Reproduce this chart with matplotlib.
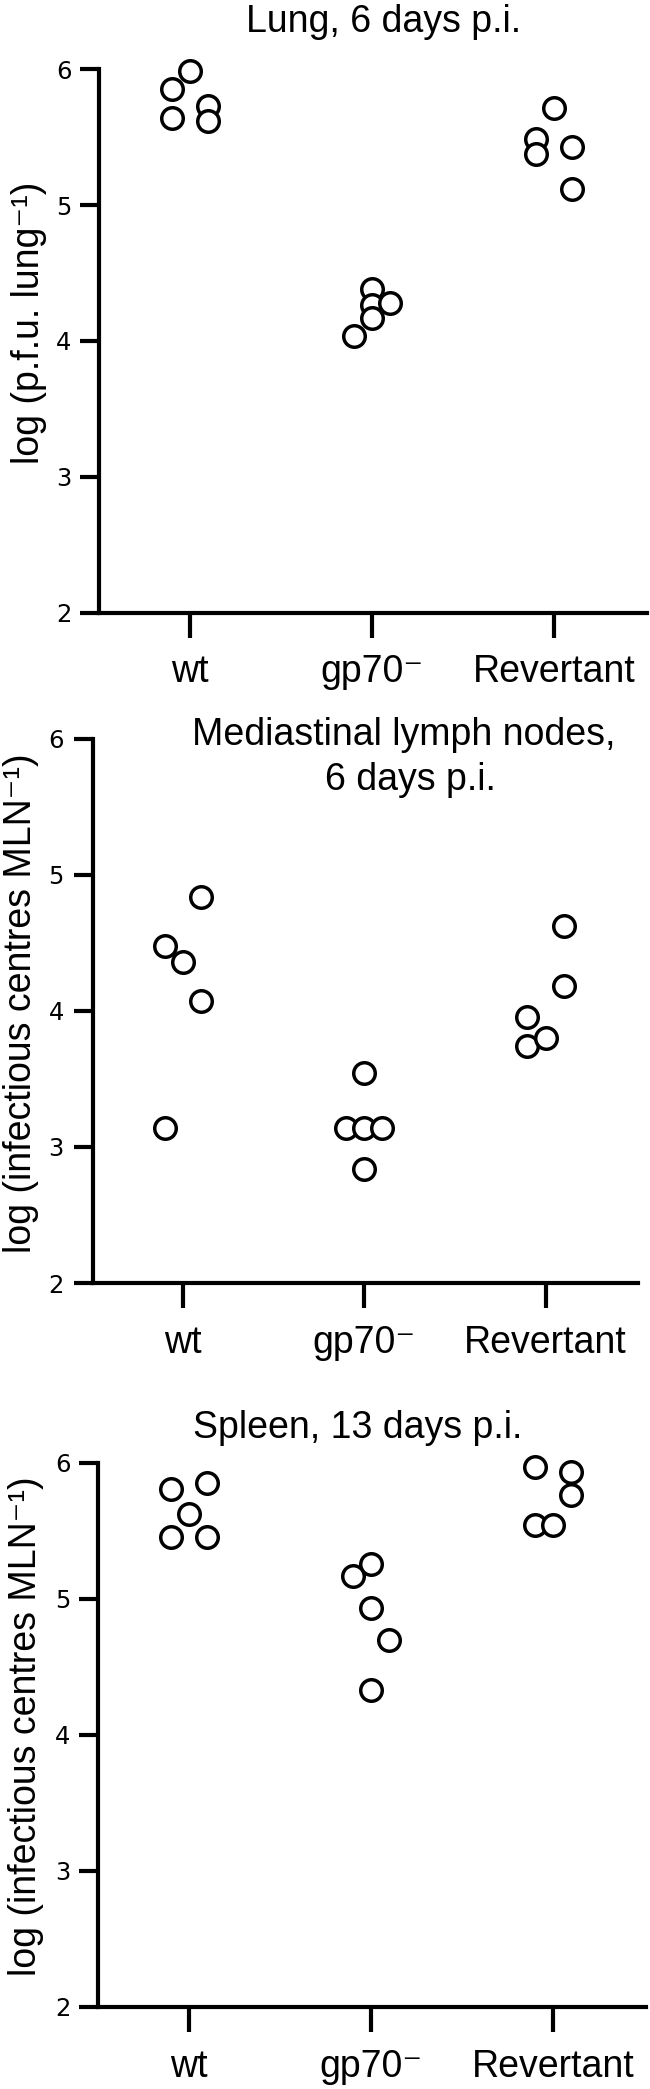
import matplotlib
matplotlib.use('Agg')
import matplotlib.pyplot as plt

# ---------------- data ----------------
categories = ['wt', 'gp70\u207b', 'Revertant']
yticks = [2, 3, 4, 5, 6]

# Lung, 6 days p.i.
lung_wt = [5.99, 5.855, 5.638, 5.73, 5.621]
lung_gp70 = [4.381, 4.263, 4.167, 4.279, 4.04]
lung_rev = [5.713, 5.49, 5.378, 5.43, 5.117]
lung_wt_dx = [0, -0.1, -0.1, 0.1, 0.1]
lung_gp70_dx = [0, 0, 0, 0.1, -0.1]
lung_rev_dx = [0, -0.1, -0.1, 0.1, 0.1]

# Mediastinal lymph nodes, 6 days p.i.
mln_wt = [4.475, 4.357, 4.836, 4.071, 3.14]
mln_gp70 = [3.545, 3.14, 3.14, 3.14, 2.838]
mln_rev = [4.623, 4.186, 3.956, 3.742, 3.798]
mln_wt_dx = [-0.1, 0, 0.1, 0.1, -0.1]
mln_gp70_dx = [0, -0.1, 0, 0.1, 0]
mln_rev_dx = [0.1, 0.1, -0.1, -0.1, 0]

# Spleen, 13 days p.i.
spl_wt = [5.807, 5.85, 5.62, 5.451, 5.451]
spl_gp70 = [5.252, 5.169, 4.929, 4.693, 4.331]
spl_rev = [5.967, 5.927, 5.761, 5.544, 5.544]
spl_wt_dx = [-0.1, 0.1, 0, -0.1, 0.1]
spl_gp70_dx = [0, -0.1, 0, 0.1, 0]
spl_rev_dx = [-0.1, 0.1, 0.1, -0.1, 0]

ylabel_lung = 'log (p.f.u. lung\u207b\u00b9)'
ylabel_ic = 'log (infectious centres MLN\u207b\u00b9)'

# ---------------- figure ----------------
W, H = 650, 2089
DPI = 100
fig = plt.figure(figsize=(W / DPI, H / DPI), dpi=DPI)

TXT = ['Liberation Sans', 'DejaVu Sans']
FS = 27
LW = 3.0


def px_rect(left, right, top, bottom):
    return [left / W, 1 - bottom / H, (right - left) / W, (bottom - top) / H]


def panel(rect, groups, offsets, ylabel, lab_xy, ypad):
    ax = fig.add_axes(rect)
    for i, (vals, dx) in enumerate(zip(groups, offsets)):
        xs = [i + d for d in dx]
        ax.plot(xs, vals, linestyle='none', marker='o', markersize=15.5,
                markerfacecolor='white', markeredgecolor='black',
                markeredgewidth=2.5, clip_on=False, zorder=3)
    ax.set_xlim(-0.5, 2.51)
    ax.set_ylim(2, 6)
    ax.set_xticks(range(len(categories)))
    ax.set_xticklabels(categories, family=TXT, fontsize=FS)
    ax.set_yticks(yticks)
    ax.set_yticklabels([str(t) for t in yticks], family='DejaVu Sans', fontsize=17.5)
    for s in ['top', 'right']:
        ax.spines[s].set_visible(False)
    for s in ['left', 'bottom']:
        ax.spines[s].set_linewidth(LW)
    ax.tick_params(axis='x', length=18, width=LW, pad=12)
    ax.tick_params(axis='y', length=13.7, width=LW, pad=ypad)
    ax.set_ylabel(ylabel, family=TXT, fontsize=FS)
    ax.yaxis.label.set_va('center')
    ax.yaxis.set_label_coords(*lab_xy)
    ax.patch.set_alpha(0)
    return ax


panel(px_rect(99.3, 647, 69.3, 612.7),
      [lung_wt, lung_gp70, lung_rev],
      [lung_wt_dx, lung_gp70_dx, lung_rev_dx],
      ylabel_lung, (-0.129, 0.533), 6.3)

panel(px_rect(92.5, 638, 739, 1283),
      [mln_wt, mln_gp70, mln_rev],
      [mln_wt_dx, mln_gp70_dx, mln_rev_dx],
      ylabel_ic, (-0.131, 0.515), 7.0)

panel(px_rect(98.3, 646, 1462.5, 2007),
      [spl_wt, spl_gp70, spl_rev],
      [spl_wt_dx, spl_gp70_dx, spl_rev_dx],
      ylabel_ic, (-0.132, 0.516), 6.3)

# titles
fig.text(246 / W, 1 - 31.7 / H, 'Lung, 6 days p.i.', family=TXT, fontsize=FS,
         ha='left', va='baseline')
fig.text(404 / W, 1 - 745 / H, 'Mediastinal lymph nodes,', family=TXT, fontsize=FS,
         ha='center', va='baseline')
fig.text(410 / W, 1 - 790 / H, '6 days p.i.', family=TXT, fontsize=FS,
         ha='center', va='baseline')
fig.text(193 / W, 1 - 1438 / H, 'Spleen, 13 days p.i.', family=TXT, fontsize=FS,
         ha='left', va='baseline')

fig.savefig('out.png', dpi=DPI)
